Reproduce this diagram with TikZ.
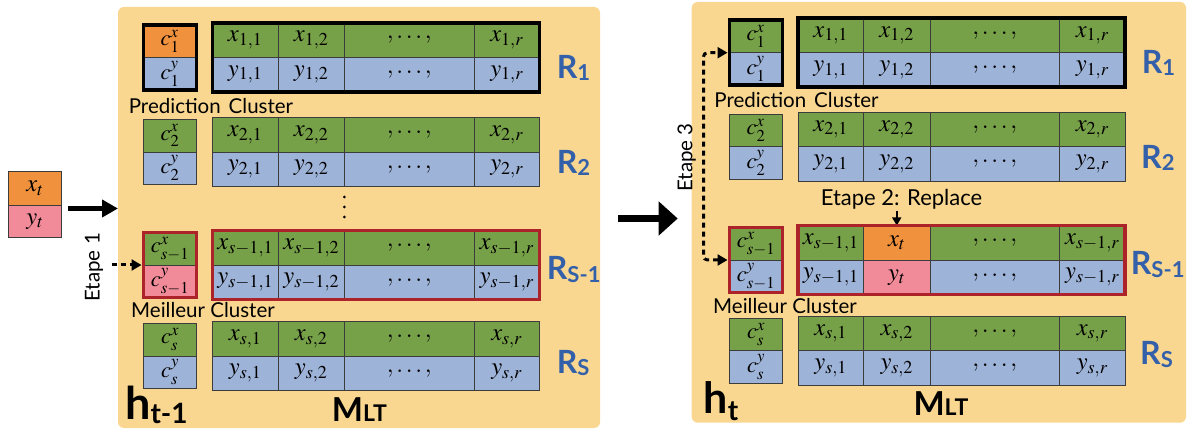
\documentclass[tikz,border=0pt]{standalone}
\usepackage{mathptmx}
\usepackage[no-math]{fontspec}
\setmainfont{Lato}
\usetikzlibrary{arrows.meta}
\definecolor{bgc}{RGB}{249,215,145}
\definecolor{org}{RGB}{240,145,62}
\definecolor{grn}{RGB}{119,161,73}
\definecolor{blu}{RGB}{158,179,216}
\definecolor{pnk}{RGB}{242,139,153}
\definecolor{redb}{RGB}{172,36,42}
\definecolor{rblue}{RGB}{52,96,170}
\definecolor{gridc}{RGB}{60,60,60}
\newcommand\mfont{\fontsize{24.5}{26}\selectfont}
\newcommand\cfont{\fontsize{22.5}{24}\selectfont}
\newcommand\lblsub[1]{\raisebox{-2.5pt}{\fontsize{22}{22}\selectfont #1}}
\tikzset{
  cell/.style={draw=gridc, line width=0.9pt, inner sep=0pt, outer sep=0pt, font=\mfont},
  cw/.style={minimum width=53pt, font=\cfont}, ch/.style={minimum height=32.5pt},
  th/.style={minimum height=34.5pt},
  wa/.style={minimum width=65.5pt}, wb/.style={minimum width=66.5pt},
  wc/.style={minimum width=129.5pt}, wd/.style={minimum width=65.5pt},
  cxs/.style={fill=grn}, cys/.style={fill=blu},
  c2x/.style={fill=grn}, c2y/.style={fill=blu},
  panel/.style={fill=bgc, rounded corners=6pt, inner sep=0pt, outer sep=0pt},
  rlab/.style={text=rblue, font=\fontsize{32}{32}\selectfont\bfseries, inner sep=0pt, anchor=base west},
  txt/.style={font=\fontsize{20.5}{22}\selectfont, inner sep=1pt},
  blkbord/.style={draw=black, line width=3.5pt},
  redbord/.style={draw=redb, line width=3.5pt},
  dasharr/.style={line width=3pt, dash pattern=on 5pt off 4pt},
}
\newcommand\crow[7]{%
\node[cell,cxs,cw,ch,anchor=south west] (#1cx) at (#2,#4) {\raisebox{1.5pt}{$c^x_{#5\vphantom{1}}$}};
\node[cell,cys,cw,ch,anchor=north west] (#1cy) at (#2,#4) {\raisebox{-1.5pt}{$c^y_{#5\vphantom{1}}$}};
\node[cell,fill=grn,wa,th,anchor=south west] (#1x1) at (#3,#4) {$x_{#5,1}$};
\node[cell,c2x,wb,th,anchor=south west] (#1x2) at (#1x1.south east) {#6};
\node[cell,fill=grn,wc,th,anchor=south west] (#1x3) at (#1x2.south east) {$,\ldots,$};
\node[cell,fill=grn,wd,th,anchor=south west] (#1x4) at (#1x3.south east) {$x_{#5,r}$};
\node[cell,fill=blu,wa,th,anchor=north west] (#1y1) at (#3,#4) {$y_{#5,1}$};
\node[cell,c2y,wb,th,anchor=north west] (#1y2) at (#1y1.north east) {#7};
\node[cell,fill=blu,wc,th,anchor=north west] (#1y3) at (#1y2.north east) {$,\ldots,$};
\node[cell,fill=blu,wd,th,anchor=north west] (#1y4) at (#1y3.north east) {$y_{#5,r}$};
}
\begin{document}
\begin{tikzpicture}[x=1pt,y=-1pt]
\useasboundingbox (0,0) rectangle (1192,430);
% panels
\node[panel, minimum width=482pt, minimum height=421pt] (P1) at (359,217.5) {};
\node[panel, minimum width=494.3pt, minimum height=420.7pt] (P2) at (938.85,212.35) {};
% input
\node[cell,fill=org,minimum width=53.4pt,minimum height=34pt,anchor=south west] (inx) at (8.3,205.5) {$x_t$};
\node[cell,fill=pnk,minimum width=53.4pt,minimum height=32pt,anchor=north west] (iny) at (8.3,205.5) {$y_t$};
% left rows
\begin{scope}[cxs/.style={fill=org}]
\crow{La}{143.5}{212.5}{57.3}{1}{$x_{1,2}$}{$y_{1,2}$}
\end{scope}
\crow{Lb}{143.5}{212.5}{152}{2}{$x_{2,2}$}{$y_{2,2}$}
\begin{scope}[cys/.style={fill=pnk}]
\crow{Lc}{143.5}{212.5}{265}{s-1}{$x_{s-1,2}$}{$y_{s-1,2}$}
\end{scope}
\crow{Ld}{143.5}{212.5}{356}{s}{$x_{s,2}$}{$y_{s,2}$}
% right rows
\crow{Ra}{729.5}{798}{52.7}{1}{$x_{1,2}$}{$y_{1,2}$}
\crow{Rb}{729.5}{798}{146.7}{2}{$x_{2,2}$}{$y_{2,2}$}
\begin{scope}[c2x/.style={fill=org}, c2y/.style={fill=pnk}]
\crow{Rc}{729.5}{798}{260}{s-1}{$x_t$}{$y_t$}
\end{scope}
\crow{Rd}{729.5}{798}{350.7}{s}{$x_{s,2}$}{$y_{s,2}$}
% vertical dots
\foreach \yy in {197,207,217} \fill (344.3,\yy) circle (1.5pt);
% Etape 2 arrow (before border)
\node[txt, font=\fontsize{22}{24}\selectfont] (et2) at (901.5,199.5) {Etape 2: Replace};
\draw[line width=1.6pt, -{Triangle[length=8pt,width=9pt]}] (et2.south -| Rcx2.north) -- (Rcx2.north);
% borders
\draw[blkbord] (Lacx.north west) rectangle (Lacy.south east);
\draw[blkbord] (Lax1.north west) rectangle (Lay4.south east);
\draw[redbord] (Lccx.north west) rectangle (Lccy.south east);
\draw[redbord] (Lcx1.north west) rectangle (Lcy4.south east);
\draw[blkbord] (Racx.north west) rectangle (Racy.south east);
\draw[blkbord] (Rax1.north west) rectangle (Ray4.south east);
\draw[redbord] (Rccx.north west) rectangle (Rccy.south east);
\draw[redbord] (Rcx1.north west) rectangle (Rcy4.south east);
% text labels
\node[txt] (predL) at (211,106.5) {Prediction\hspace{8pt}Cluster};
\node[txt] (meilL) at (203,310) {Meilleur Cluster};
\node[txt] (predR) at (796.5,100) {Prediction\hspace{8pt}Cluster};
\node[txt] (meilR) at (785,306) {Meilleur Cluster};
\node[txt, rotate=90] (et1) at (94,267.3) {Etape 1};
\node[txt, rotate=90] (et3) at (686.7,157.5) {Etape 3};
% R labels
\node[rlab] (lR1) at (556.7,78.3) {R\lblsub{1}};
\node[rlab] (lR2) at (556.7,173.3) {R\lblsub{2}};
\node[rlab] (lR3) at (546.7,280) {R\lblsub{S-1}};
\node[rlab] (lR4) at (556.7,373.3) {R\lblsub{S}};
\node[rlab] (rR1) at (1141.7,73.3) {R\lblsub{1}};
\node[rlab] (rR2) at (1141,168.3) {R\lblsub{2}};
\node[rlab] (rR3) at (1130.7,275) {R\lblsub{S-1}};
\node[rlab] (rR4) at (1140,365) {R\lblsub{S}};
% h and M labels
\node[inner sep=0pt, anchor=base west] (hL) at (125,420) {\fontsize{45}{45}\selectfont\bfseries h\raisebox{-3pt}{\fontsize{28}{28}\selectfont t-1}};
\node[inner sep=0pt, anchor=base west] (hR) at (703.3,413.3) {\fontsize{43}{43}\selectfont\bfseries h\raisebox{-7pt}{\fontsize{28}{28}\selectfont t}};
\node[inner sep=0pt, anchor=base west] (mL) at (331.7,421.7) {\fontsize{33}{33}\selectfont\bfseries M\fontsize{23}{23}\selectfont LT};
\node[inner sep=0pt, anchor=base west] (mR) at (913.3,415) {\fontsize{33}{33}\selectfont\bfseries M\fontsize{23}{23}\selectfont LT};
% arrows
\draw[line width=4.5pt, -{Triangle[length=16pt,width=17pt]}] ([xshift=6.5pt,yshift=-3pt]inx.south east) -- ([yshift=-3pt]inx.south east -| P1.west);
\draw[line width=7.5pt, -{Triangle[length=19pt,width=33pt]}] ([xshift=18pt,yshift=-1pt]P1.east) -- ([xshift=-14pt,yshift=-1pt]P1.east -| P2.west);
\draw[dasharr, -{Triangle[length=10pt,width=11pt]}] ([xshift=-32pt]Lccx.south west) -- ([xshift=-2pt]Lccx.south west);
\draw[dasharr, rounded corners=4pt, {Triangle[length=10pt,width=11pt]}-{Triangle[length=10pt,width=11pt]}] ([xshift=-2pt]Rccx.south west) -- ++(-24,0) |- ([xshift=-2pt]Racx.south west);
\end{tikzpicture}
\end{document}
